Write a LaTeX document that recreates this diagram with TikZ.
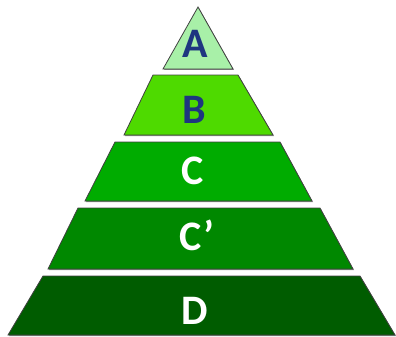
\documentclass[tikz,border=0pt]{standalone}
\usepackage{fontspec}
\setmainfont{Carlito}
\definecolor{cA}{RGB}{168,240,168}
\definecolor{cB}{RGB}{78,218,0}
\definecolor{cC}{RGB}{0,172,0}
\definecolor{cCp}{RGB}{0,136,0}
\definecolor{cD}{RGB}{0,92,0}
\definecolor{navy}{RGB}{30,54,128}
\tikzset{
  layer/.style={draw=black!75, line width=0.8pt, line join=miter},
  shade/.style={fill=black!45, draw=none},
  lbl/.style={anchor=base, font=\fontsize{42}{42}\selectfont\bfseries, inner sep=0pt},
}
\begin{document}
\begin{tikzpicture}[x=1pt,y=-1pt]
\useasboundingbox (0,0) rectangle (396,337);
% shadows
\fill[shade] (199,8) -- (234,70) -- (164,70) -- cycle;
\fill[shade] (154,76) -- (239,76) -- (274,136) -- (125,136) -- cycle;
\fill[shade] (116,143) -- (281,143) -- (313,202) -- (86,202) -- cycle;
\fill[shade] (79,209) -- (321,209) -- (354,270) -- (49,270) -- cycle;
\fill[shade] (44,277) -- (361,277) -- (396,336) -- (9,336) -- cycle;
% layers
\filldraw[layer, fill=cA] (198,7) -- (233,69) -- (163,69) -- cycle;
\filldraw[layer, fill=cB] (153,75) -- (238,75) -- (273,135) -- (124,135) -- cycle;
\filldraw[layer, fill=cC] (115,142) -- (280,142) -- (312,201) -- (85,201) -- cycle;
\filldraw[layer, fill=cCp] (78,208) -- (320,208) -- (353,269) -- (48,269) -- cycle;
\filldraw[layer, fill=cD] (43,276) -- (360,276) -- (395,335) -- (8,335) -- cycle;
% labels
\node[lbl, text=navy] (la) at (195,57) {A};
\node[lbl, text=navy] (lb) at (194,123) {B};
\node[lbl, text=white] (lc) at (193,184) {C};
\node[lbl, text=white] (lcp) at (197,250) {C’};
\node[lbl, text=white] (ld) at (195,324) {D};
\end{tikzpicture}
\end{document}
